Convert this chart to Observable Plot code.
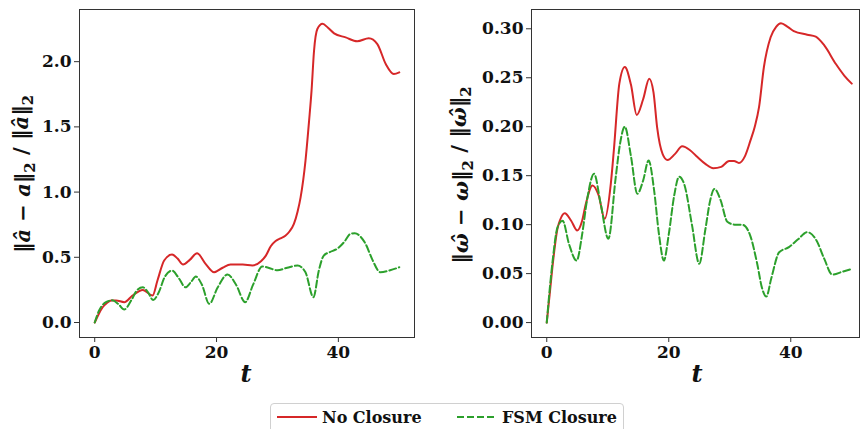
<!DOCTYPE html>
<html>
<head>
<meta charset="utf-8">
<script src="https://cdn.jsdelivr.net/npm/d3@7"></script>
<script src="https://cdn.jsdelivr.net/npm/@observablehq/plot@0.6"></script>
<style>
  html, body { margin: 0; padding: 0; background: #fff; }
  #wrap { position: relative; width: 860px; height: 429px; overflow: hidden; background: #fff; }
  .panel { position: absolute; top: 0; }
  #legend {
    position: absolute; left: 270px; top: 403px; width: 354px; height: 40px;
    border: 1px solid #d0d0d0; border-radius: 4px; background: #fff; box-sizing: border-box;
    font-family: "DejaVu Serif", serif; font-weight: bold; font-size: 16px; color: #111;
  }
  #legend .item { position: absolute; top: 3px; display: flex; align-items: center; white-space: nowrap; }
  #legend svg { margin-right: 5px; }
</style>
</head>
<body>
<div id="wrap">
  <div id="left" class="panel" style="left:0px"></div>
  <div id="right" class="panel" style="left:430px"></div>
  <div id="legend"></div>
</div>
<script>
// ---------------- data ----------------
const seriesNames = ["No Closure", "FSM Closure"];
const seriesColors = ["#d62728", "#2ca02c"];
const xTicks = [0, 20, 40];
const yTicksLeft = [0, 0.5, 1.0, 1.5, 2.0];
const yTicksRight = [0, 0.05, 0.10, 0.15, 0.20, 0.25, 0.30];

// Left panel: relative error of a
const tNoA = [0, 0.6, 1.3, 2.0, 2.7, 3.5, 4.85, 6.2, 7.9, 9.5, 10.3, 11.4, 12.7, 13.6, 14.5, 15.6, 16.8, 18.2, 19.6, 21.0, 22.3, 24.3, 25.9, 27.3, 28.1, 28.9, 29.7, 30.5, 31.3, 32.0, 32.7, 33.3, 33.8, 34.6, 35.2, 35.6, 36.0, 36.55, 37.4, 38.3, 39.3, 41.2, 43.1, 45.0, 46.4, 47.8, 49.1, 50.0];
const noA  = [0, 0.06, 0.117, 0.15, 0.169, 0.169, 0.156, 0.207, 0.25, 0.207, 0.322, 0.475, 0.521, 0.49, 0.444, 0.48, 0.531, 0.45, 0.386, 0.42, 0.444, 0.444, 0.437, 0.47, 0.513, 0.585, 0.625, 0.645, 0.665, 0.70, 0.756, 0.85, 0.96, 1.24, 1.55, 1.78, 2.08, 2.25, 2.29, 2.26, 2.217, 2.186, 2.156, 2.18, 2.135, 1.98, 1.905, 1.918];
const tFsmA = [0, 0.7, 1.85, 2.9, 3.9, 4.85, 6.0, 7.0, 7.9, 8.7, 9.6, 10.5, 11.5, 12.7, 13.8, 14.9, 15.8, 16.6, 17.6, 18.8, 20.2, 21.8, 23.2, 24.7, 26.0, 27.5, 28.5, 30.0, 31.6, 33.3, 34.6, 35.9, 36.8, 37.6, 38.6, 39.8, 41.0, 42.0, 42.7, 43.6, 44.5, 45.6, 46.9, 48.5, 50.0];
const fsmA  = [0, 0.09, 0.156, 0.17, 0.14, 0.1, 0.17, 0.25, 0.27, 0.235, 0.172, 0.23, 0.35, 0.398, 0.34, 0.27, 0.31, 0.352, 0.29, 0.143, 0.27, 0.368, 0.29, 0.156, 0.29, 0.43, 0.42, 0.40, 0.42, 0.437, 0.385, 0.194, 0.4, 0.513, 0.54, 0.565, 0.62, 0.68, 0.685, 0.66, 0.6, 0.48, 0.385, 0.40, 0.424];

// Right panel: relative error of omega
const tNoW = [0, 0.5, 0.93, 1.75, 2.2, 2.95, 4.0, 5.0, 5.8, 6.4, 7.5, 8.5, 9.5, 10.5, 11.0, 11.9, 12.8, 13.8, 14.75, 15.8, 16.8, 17.5, 18.1, 19.0, 19.8, 21.0, 22.2, 23.5, 24.7, 26.0, 27.3, 28.6, 29.9, 30.7, 31.5, 32.5, 33.4, 34.1, 34.8, 35.6, 36.7, 37.6, 38.4, 39.5, 40.5, 42.7, 44.1, 45.5, 47.4, 48.8, 50.0];
const noW  = [0, 0.03, 0.0565, 0.0957, 0.105, 0.1117, 0.104, 0.094, 0.104, 0.121, 0.14, 0.13, 0.106, 0.1417, 0.176, 0.244, 0.261, 0.243, 0.212, 0.228, 0.249, 0.235, 0.199, 0.172, 0.166, 0.172, 0.18, 0.176, 0.169, 0.162, 0.1576, 0.159, 0.165, 0.165, 0.163, 0.17, 0.186, 0.2, 0.22, 0.261, 0.2914, 0.302, 0.3057, 0.302, 0.2976, 0.294, 0.292, 0.283, 0.264, 0.252, 0.244];
const tFsmW = [0, 0.5, 1.0, 1.75, 2.6, 3.66, 4.9, 5.8, 6.6, 7.75, 8.85, 10.1, 11.3, 12.0, 12.8, 13.8, 14.85, 15.8, 16.7, 17.6, 18.4, 19.2, 20.0, 20.9, 21.7, 22.6, 23.8, 25.0, 26.0, 26.8, 27.5, 28.5, 29.6, 30.8, 32.1, 33.4, 34.5, 35.3, 36.0, 36.8, 38.1, 39.7, 41.2, 42.7, 44.2, 45.5, 46.8, 48.5, 50.0];
const fsmW  = [0, 0.035, 0.065, 0.097, 0.104, 0.08, 0.0633, 0.09, 0.125, 0.152, 0.121, 0.0855, 0.148, 0.182, 0.2, 0.17, 0.1315, 0.145, 0.1655, 0.135, 0.09, 0.0633, 0.09, 0.13, 0.149, 0.14, 0.10, 0.060, 0.095, 0.125, 0.1365, 0.125, 0.103, 0.10, 0.0998, 0.088, 0.06, 0.035, 0.0265, 0.045, 0.0718, 0.077, 0.085, 0.0923, 0.084, 0.065, 0.049, 0.052, 0.0548];

// ---------------- helpers ----------------
const toRows = (ts, vs) => ts.map((t, i) => ({t, v: vs[i]}));
const FONT = "DejaVu Serif";

function panel({width, marginLeft, marginRight, xDomain, yDomain, yTicks, yFmt, noData, fsmData}) {
  return Plot.plot({
    width, height: 390,
    marginLeft, marginRight, marginTop: 9, marginBottom: 53,
    style: {fontFamily: FONT, fontWeight: "bold", fontSize: "17px", color: "#111", background: "#fff", overflow: "visible"},
    x: {domain: xDomain},
    y: {domain: yDomain},
    marks: [
      Plot.axisX({ticks: xTicks, tickSize: 5, tickPadding: 3, label: null, stroke: "#333", tickFormat: d3.format("d")}),
      Plot.axisY({ticks: yTicks, tickSize: 5, tickPadding: 3, label: null, stroke: "#333", tickFormat: d3.format(yFmt)}),
      Plot.line(noData, {x: "t", y: "v", stroke: seriesColors[0], strokeWidth: 2, curve: "monotone-x"}),
      Plot.line(fsmData, {x: "t", y: "v", stroke: seriesColors[1], strokeWidth: 2, strokeDasharray: "7,3", curve: "monotone-x"}),
      Plot.frame({stroke: "#333", strokeWidth: 1})
    ]
  });
}

function addLabels(svg, {ylabelX, ylabelY, xlabelX, parts}) {
  const s = d3.select(svg);
  // x label "t"
  s.append("text")
    .attr("x", xlabelX).attr("y", 382)
    .attr("text-anchor", "middle")
    .style("font-family", FONT).style("font-weight", "bold").style("font-style", "italic")
    .style("font-size", "24px").attr("fill", "#111")
    .text("t");
  // y label (rotated)
  const txt = s.append("text")
    .attr("transform", `translate(${ylabelX},${ylabelY}) rotate(-90)`)
    .attr("text-anchor", "middle")
    .style("font-family", FONT).style("font-weight", "bold")
    .style("font-size", "21px").attr("fill", "#111");
  for (const p of parts) {
    const ts = txt.append("tspan").text(p.s);
    if (p.i) ts.style("font-style", "italic");
    if (p.sub) ts.attr("dy", "0.3em").style("font-size", "15px");
    if (p.up) ts.attr("dy", "-0.3em");
  }
}

// ---------------- left ----------------
const left = panel({
  width: 430, marginLeft: 79, marginRight: 16,
  xDomain: [-2.5, 52.5], yDomain: [-0.115, 2.40],
  yTicks: yTicksLeft, yFmt: ".1f",
  noData: toRows(tNoA, noA), fsmData: toRows(tFsmA, fsmA)
});
document.getElementById("left").appendChild(left);
addLabels(left, {
  ylabelX: 30, ylabelY: 174, xlabelX: 246,
  parts: [
    {s: "‖"}, {s: "â", i: true}, {s: " − "}, {s: "a", i: true}, {s: "‖"}, {s: "2", sub: true},
    {s: " / ‖", up: true}, {s: "â", i: true}, {s: "‖"}, {s: "2", sub: true}
  ]
});

// ---------------- right ----------------
const right = panel({
  width: 430, marginLeft: 101, marginRight: 1,
  xDomain: [-2.5, 51.27], yDomain: [-0.01525, 0.3197],
  yTicks: yTicksRight, yFmt: ".2f",
  noData: toRows(tNoW, noW), fsmData: toRows(tFsmW, fsmW)
});
document.getElementById("right").appendChild(right);
addLabels(right, {
  ylabelX: 38, ylabelY: 175, xlabelX: 267,
  parts: [
    {s: "‖"}, {s: "ω\u0302", i: true}, {s: " − "}, {s: "ω", i: true}, {s: "‖"}, {s: "2", sub: true},
    {s: " / ‖", up: true}, {s: "ω\u0302", i: true}, {s: "‖"}, {s: "2", sub: true}
  ]
});

// ---------------- legend ----------------
const legend = d3.select("#legend");
const itemX = [6, 186];
seriesNames.forEach((name, i) => {
  const item = legend.append("div").attr("class", "item").style("left", itemX[i] + "px");
  const sw = item.append("svg").attr("width", 40).attr("height", 20);
  sw.append("line").attr("x1", 0).attr("x2", 40).attr("y1", 10).attr("y2", 10)
    .attr("stroke", seriesColors[i]).attr("stroke-width", 2)
    .attr("stroke-dasharray", i === 1 ? "7,3" : null);
  item.append("span").text(name);
});
</script>
</body>
</html>
